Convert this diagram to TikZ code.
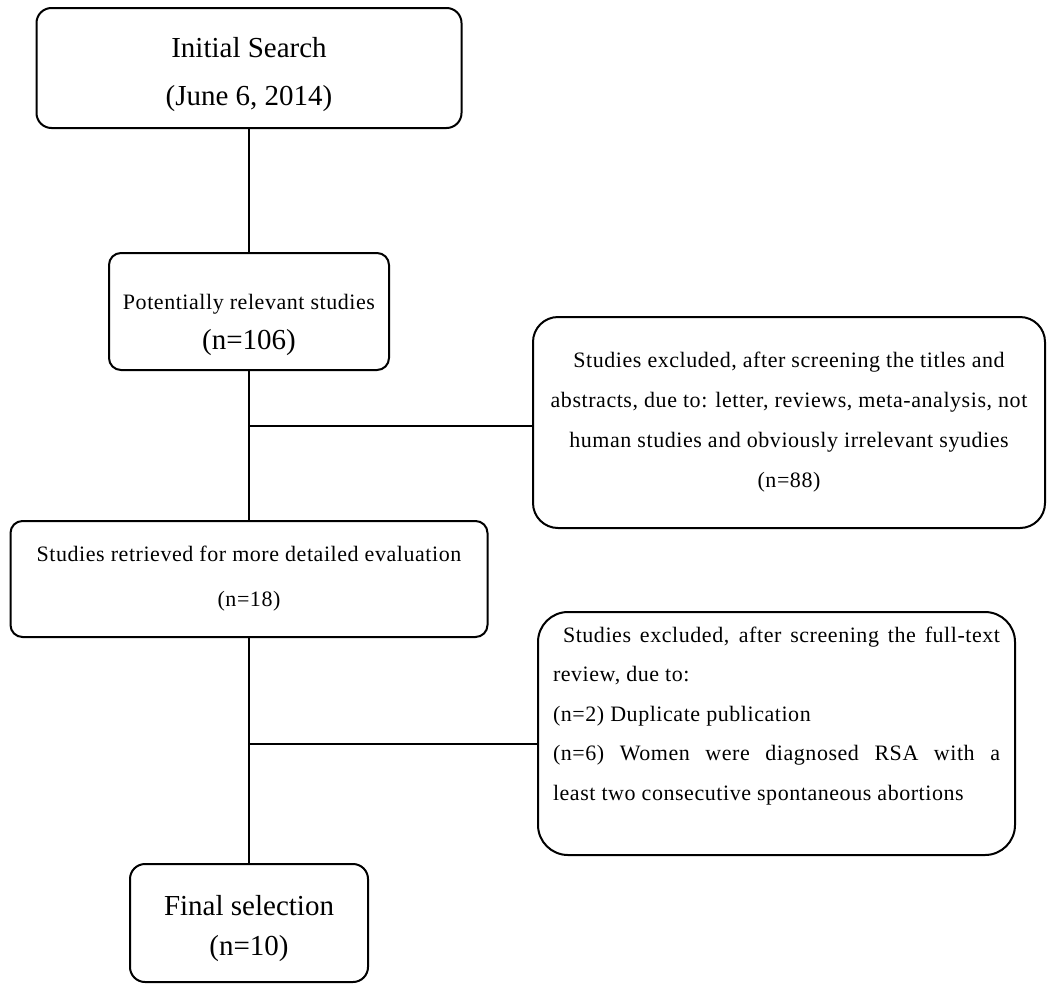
\documentclass[tikz,border=0pt]{standalone}
\usepackage{fontspec}
\setmainfont{Liberation Serif}
\newfontfamily\spacedserif{Liberation Serif}[LetterSpace=2.5]
\begin{document}
\begin{tikzpicture}
	[x=1pt,y=-1pt,line width=2pt,
	flowbox/.style={draw,rounded corners=#1,inner sep=0pt,align=center},
	bigtext/.style={font=\fontsize{29}{48}\selectfont},
	smalltext/.style={font=\spacedserif\fontsize{22}{40}\selectfont}]
	\useasboundingbox (0,0) rectangle (1048,983);
	\node[flowbox=15pt,bigtext,minimum width=425pt,minimum height=120pt,name=init] at (249,68)
		{\rule{0pt}{33pt}Initial Search\\(June 6, 2014)};
	\node[flowbox=12pt,smalltext,minimum width=280pt,minimum height=117pt,name=potential] at (249,311.5)
		{\rule{0pt}{42pt}Potentially relevant studies\\{\rmfamily\fontsize{29}{44}\selectfont (n=106)}};
	\node[flowbox=25pt,smalltext,minimum width=512pt,minimum height=211pt,name=excl1] at (789,422.5)
		{Studies excluded, after screening the titles and\\
		abstracts, due to: letter, reviews, meta-analysis, not\\
		human studies and obviously irrelevant syudies\\
		(n=88)};
	\node[flowbox=12pt,smalltext,minimum width=477pt,minimum height=116pt,name=retrieved] at (249,579)
		{Studies retrieved for more detailed evaluation\\[5pt](n=18)};
	\node[flowbox=30pt,font=\spacedserif\fontsize{22}{39.5}\selectfont,align=justify,text width=447pt,
		minimum width=477pt,minimum height=243pt,name=excl2] at (776.5,733.5)
		{\hspace*{10pt}Studies excluded, after screening the full-text\linebreak
		review, due to:\\
		(n=2) Duplicate publication\\
		(n=6) Women were diagnosed RSA with a\linebreak
		least two consecutive spontaneous abortions\rule[-40pt]{0pt}{0pt}};
	\node[flowbox=15pt,font=\fontsize{29}{40}\selectfont,minimum width=238pt,minimum height=118pt,name=final] at (249,923)
		{\rule{0pt}{31pt}Final selection\\(n=10)};
	\coordinate (fork1) at (249,426);
	\coordinate (fork2) at (249,744);
	\draw (init) -- (potential);
	\draw (potential) -- (retrieved);
	\draw (retrieved) -- (final);
	\draw (fork1) -- (fork1 -| excl1.west);
	\draw (fork2) -- (fork2 -| excl2.west);
\end{tikzpicture}
\end{document}
